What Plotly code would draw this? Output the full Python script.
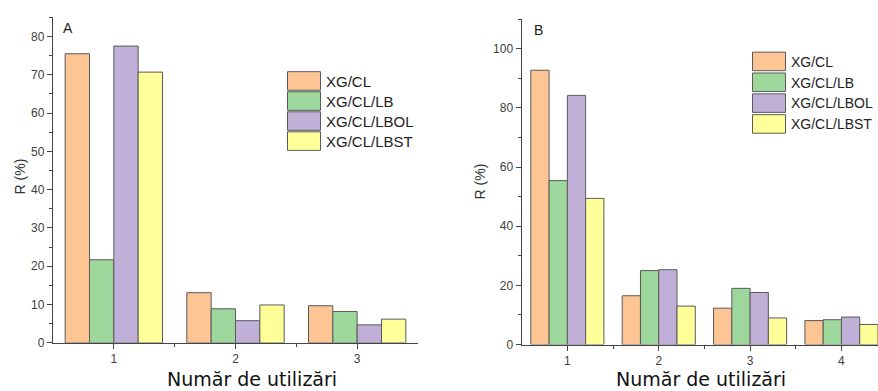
import plotly.graph_objects as go

# ---- data ----
series_names = ["XG/CL", "XG/CL/LB", "XG/CL/LBOL", "XG/CL/LBST"]
colors = ["#FCC593", "#9ED79C", "#C0B0D8", "#FFFF99"]

cats_a = [1, 2, 3]
vals_a_xgcl = [75.5, 13.1, 9.7]
vals_a_lb = [21.7, 8.9, 8.2]
vals_a_lbol = [77.5, 5.8, 4.7]
vals_a_lbst = [70.7, 9.9, 6.2]

cats_b = [1, 2, 3, 4]
vals_b_xgcl = [92.7, 16.5, 12.3, 8.1]
vals_b_lb = [55.4, 25.0, 19.0, 8.4]
vals_b_lbol = [84.2, 25.3, 17.6, 9.3]
vals_b_lbst = [49.4, 13.0, 9.0, 6.8]

x_title = "Număr de utilizări"
y_title = "R (%)"

W, H = 878, 399
REF_H = 391

fig = go.Figure()
series_a = [vals_a_xgcl, vals_a_lb, vals_a_lbol, vals_a_lbst]
series_b = [vals_b_xgcl, vals_b_lb, vals_b_lbol, vals_b_lbst]
for name, col, va in zip(series_names, colors, series_a):
    fig.add_trace(go.Bar(x=cats_a, y=va, name=name, marker=dict(color=col, line=dict(color="#5a5a5a", width=1)),
                         xaxis="x", yaxis="y", showlegend=False, offsetgroup=name))
for name, col, vb in zip(series_names, colors, series_b):
    fig.add_trace(go.Bar(x=cats_b, y=vb, name=name, marker=dict(color=col, line=dict(color="#5a5a5a", width=1)),
                         xaxis="x2", yaxis="y2", showlegend=False, offsetgroup=name))

def px(x):
    return x / W

def py(y):
    return 1 - y / REF_H

tickfont = dict(family="Arial", size=12, color="#404040")
axcommon = dict(showline=True, linecolor="#444", linewidth=1.3, showgrid=False, zeroline=False,
                ticks="outside", ticklen=5, tickwidth=1.2, tickcolor="#444", tickfont=tickfont)

fig.update_layout(
    width=W, height=H, margin=dict(l=0, r=0, t=0, b=0),
    paper_bgcolor="white", plot_bgcolor="white",
    barmode="group", bargap=0.2, bargroupgap=0,
    xaxis=dict(domain=[px(53), px(418)], range=[0.5, 3.5], anchor="y",
               tickvals=cats_a, minor=dict(tickvals=[1.5, 2.5], ticks="outside", ticklen=3, tickcolor="#444"),
               **axcommon),
    yaxis=dict(domain=[py(342), py(17.3)], range=[0, 85], anchor="x",
               tickvals=[0, 10, 20, 30, 40, 50, 60, 70, 80],
               minor=dict(dtick=5, tick0=0, ticks="outside", ticklen=3, tickcolor="#444"),
               **axcommon),
    xaxis2=dict(domain=[px(521.7), 1.0], range=[0.5, 4.4], anchor="y2",
                tickvals=cats_b, minor=dict(tickvals=[1.5, 2.5, 3.5], ticks="outside", ticklen=3, tickcolor="#444"),
                **axcommon),
    yaxis2=dict(domain=[py(343.7), py(19)], range=[0, 110], anchor="x2",
                tickvals=[0, 20, 40, 60, 80, 100],
                minor=dict(dtick=10, tick0=0, ticks="outside", ticklen=3, tickcolor="#444"),
                **axcommon),
)

ann = []
for cx in (252, 701):
    ann.append(dict(text=x_title, x=px(cx), y=py(378), xref="paper", yref="paper", showarrow=False,
                    xanchor="center", yanchor="middle",
                    font=dict(family="DejaVu Sans", size=19, color="#111")))
for cx, cy in ((20, 176), (480, 181)):
    ann.append(dict(text=y_title, x=px(cx), y=py(cy), xref="paper", yref="paper", showarrow=False,
                    xanchor="center", yanchor="middle", textangle=-90,
                    font=dict(family="Arial", size=14, color="#333")))
for lbl, cx, cy in (("A", 68, 28), ("B", 538, 30)):
    ann.append(dict(text=lbl, x=px(cx), y=py(cy), xref="paper", yref="paper", showarrow=False,
                    xanchor="center", yanchor="middle",
                    font=dict(family="Arial", size=14, color="#222")))

# legends drawn as patches + labels
shapes = []
for lx, ly0, pitch, fs in ((287.5, 71.5, 20.0, 15), (752.5, 52.0, 20.8, 14)):
    for i, (name, col) in enumerate(zip(series_names, colors)):
        y0 = ly0 + i * pitch
        shapes.append(dict(type="rect", xref="paper", yref="paper",
                           x0=px(lx), x1=px(lx + 33), y0=py(y0), y1=py(y0 + 18.5),
                           fillcolor=col, line=dict(color="#5a5a5a", width=1)))
        ann.append(dict(text=name, x=px(lx + 36), y=py(y0 + 9.5), xref="paper", yref="paper",
                        showarrow=False, xanchor="left", yanchor="middle",
                        font=dict(family="Arial", size=fs, color="#222")))

fig.update_layout(annotations=ann, shapes=shapes)
fig.write_html("out.html")
